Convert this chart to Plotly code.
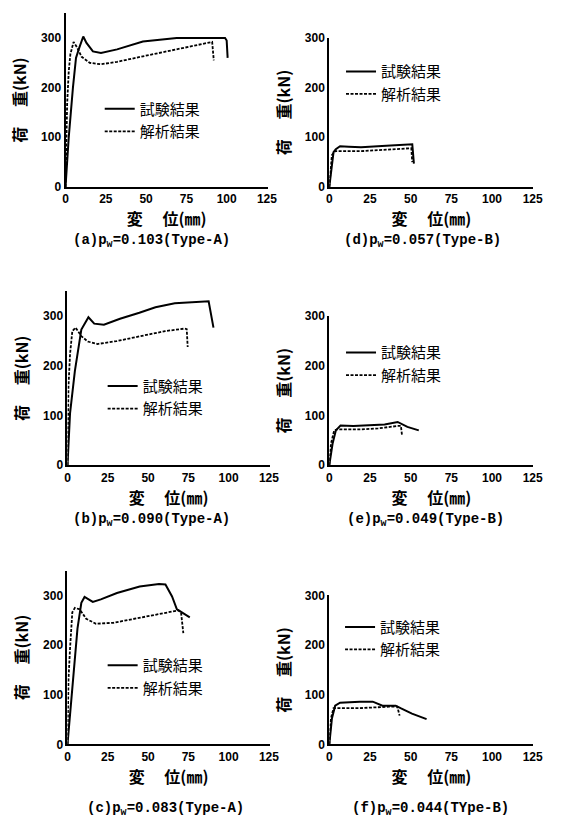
import plotly.graph_objects as go

W, H = 564, 833

# ---------------- data (displacement mm, load kN) ----------------
a_test_x = [0, 2, 4.6, 6.5, 8.5, 11, 13, 17, 22, 32, 48, 69, 85, 99, 100, 100.6]
a_test_y = [0, 100, 200, 260, 280, 303, 290, 273, 270, 277, 293, 300, 300, 300, 295, 260]
a_anal_x = [0, 1, 2, 3, 5, 7, 10, 15, 22, 32, 48, 69, 91, 92]
a_anal_y = [0, 167, 233, 267, 292, 282, 262, 250, 247, 252, 263, 277, 292, 255]

d_test_x = [0, 1.2, 2.6, 4, 6.6, 12, 19.5, 35, 49, 51, 52]
d_test_y = [0, 31, 70, 76, 82, 81, 80, 83, 85, 86, 47]
d_anal_x = [0, 1.6, 3.6, 10, 19.5, 35, 49, 50.4, 51]
d_anal_y = [0, 64, 72, 72, 72, 75, 79, 78, 50]

b_test_x = [0, 1.6, 4.6, 8.6, 13, 16.6, 22.6, 32.6, 44.6, 54.6, 66.6, 87.6, 90.6]
b_test_y = [0, 105, 190, 273, 298, 285, 283, 295, 307, 318, 326, 330, 277]
b_anal_x = [0, 0.6, 1.6, 3, 5, 8.6, 12.6, 18.6, 30.6, 44.6, 60.6, 72.6, 74, 74.6]
b_anal_y = [0, 158, 224, 270, 277, 260, 249, 244, 250, 260, 270, 275, 274, 238]

e_test_x = [0, 2, 4, 6.9, 14.8, 25, 34, 42, 48, 55]
e_test_y = [0, 43, 70, 80, 79, 80, 82, 87, 77, 70]
e_anal_x = [0, 1, 3, 5, 18.7, 30, 42, 44, 44.7]
e_anal_y = [0, 43, 70, 72, 72, 74, 79, 79, 60]

c_test_x = [0, 3.6, 6.2, 8.6, 10.6, 15.7, 20.7, 30.7, 44.8, 56.8, 60.8, 64.9, 67.9, 70, 75.9]
c_test_y = [0, 143, 233, 285, 297, 287, 292, 305, 318, 323, 322, 298, 272, 268, 256]
c_anal_x = [0, 0.6, 1.6, 3, 4.6, 7.6, 11.6, 17.7, 28.7, 44.8, 60.8, 68.9, 70.5, 71.9]
c_anal_y = [0, 130, 194, 266, 275, 272, 253, 243, 245, 255, 266, 270, 265, 224]

f_test_x = [0, 1.6, 3.6, 6.6, 18.7, 26.7, 32.7, 40.8, 43.8, 50.8, 59.8]
f_test_y = [0, 52, 78, 84, 86, 86, 78, 78, 73, 62, 51]
f_anal_x = [0, 1, 2.6, 18.7, 36.7, 41.8, 43.2]
f_anal_y = [0, 52, 73, 73, 76, 76, 58]

x_ticks = [0, 25, 50, 75, 100, 125]
y_ticks = [0, 100, 200, 300]
series_names = ["試験結果", "解析結果"]
SUBW = "<span style='font-size:10px;baseline-shift:-3px'>w</span>"
captions = [
    "(a)p" + SUBW + "=0.103(Type-A)",
    "(b)p" + SUBW + "=0.090(Type-A)",
    "(c)p" + SUBW + "=0.083(Type-A)",
    "(d)p" + SUBW + "=0.057(Type-B)",
    "(e)p" + SUBW + "=0.049(Type-B)",
    "(f)p" + SUBW + "=0.044(TYpe-B)",
]
x_title = "　 変　 位(㎜)"
y_title = "荷　 重(kN)"

# ---------------- layout geometry (pixels) ----------------
panels = [
    dict(tx=a_test_x, ty=a_test_y, ax=a_anal_x, ay=a_anal_y, l=64, r=271, b=183, ymax=350, cap=captions[0],
         capx=152, capy=238, legx=99, legy=87),
    dict(tx=d_test_x, ty=d_test_y, ax=d_anal_x, ay=d_anal_y, l=334, r=543, b=183, ymax=300, cap=captions[3],
         capx=429, capy=238, legx=346, legy=49),
    dict(tx=b_test_x, ty=b_test_y, ax=b_anal_x, ay=b_anal_y, l=66, r=273, b=466, ymax=350, cap=captions[1],
         capx=152, capy=522, legx=102, legy=369),
    dict(tx=e_test_x, ty=e_test_y, ax=e_anal_x, ay=e_anal_y, l=334, r=543, b=466, ymax=300, cap=captions[4],
         capx=432, capy=522, legx=346, legy=335),
    dict(tx=c_test_x, ty=c_test_y, ax=c_anal_x, ay=c_anal_y, l=66, r=273, b=750, ymax=350, cap=captions[2],
         capx=166, capy=816, legx=102, legy=653),
    dict(tx=f_test_x, ty=f_test_y, ax=f_anal_x, ay=f_anal_y, l=334, r=543, b=750, ymax=300, cap=captions[5],
         capx=438, capy=816, legx=345, legy=614),
]
SCALE = 0.505  # px per kN

fig = go.Figure()
annotations = []
layout = {}
title_font = dict(family="Noto Sans CJK JP", size=16, color="black", weight="bold")
tickfont = dict(family="Liberation Sans", size=12, color="black", weight="bold")
legend_font = dict(family="Noto Sans CJK JP", size=15, color="black")

for i, p in enumerate(panels):
    n = "" if i == 0 else str(i + 1)
    xa, ya = "x" + n, "y" + n
    leg = "legend" + n
    top = p["b"] - p["ymax"] * SCALE
    layout["xaxis" + n] = dict(
        domain=[p["l"] / W, p["r"] / W], anchor=ya, range=[0, 125.5],
        tickvals=x_ticks, showgrid=False, zeroline=False, showline=True,
        linecolor="black", linewidth=2, ticks="", tickfont=tickfont,
        title=dict(text=x_title, font=title_font, standoff=6),
    )
    layout["yaxis" + n] = dict(
        domain=[1 - p["b"] / H, 1 - top / H], anchor=xa, range=[0, p["ymax"]],
        tickvals=y_ticks, showgrid=False, zeroline=False, showline=True,
        linecolor="black", linewidth=2, ticks="", tickfont=tickfont,
        title=dict(text=y_title, font=title_font, standoff=10),
    )
    fig.add_trace(go.Scatter(x=p["tx"], y=p["ty"], mode="lines", name=series_names[0],
                             line=dict(color="black", width=2), xaxis=xa, yaxis=ya, legend=leg))
    fig.add_trace(go.Scatter(x=p["ax"], y=p["ay"], mode="lines", name=series_names[1],
                             line=dict(color="black", width=1.8, dash="3px,1.5px"),
                             xaxis=xa, yaxis=ya, legend=leg))
    layout[leg] = dict(x=p["legx"] / W, y=1 - p["legy"] / H, xanchor="left", yanchor="top",
                       bgcolor="rgba(0,0,0,0)", borderwidth=0, font=legend_font,
                       itemwidth=30, tracegroupgap=0)
    annotations.append(dict(text=p["cap"], x=p["capx"] / W, y=1 - p["capy"] / H, xref="paper", yref="paper",
                            showarrow=False, xanchor="center", yanchor="middle",
                            font=dict(family="Liberation Mono", size=14, color="black", weight="bold")))

fig.update_layout(
    width=W, height=H, margin=dict(l=0, r=0, t=0, b=0),
    font=legend_font,
    paper_bgcolor="white", plot_bgcolor="white", showlegend=True,
    annotations=annotations, **layout,
)
fig.write_html("out.html", config={"displayModeBar": False},
               post_script="document.body.style.margin='0px';")
